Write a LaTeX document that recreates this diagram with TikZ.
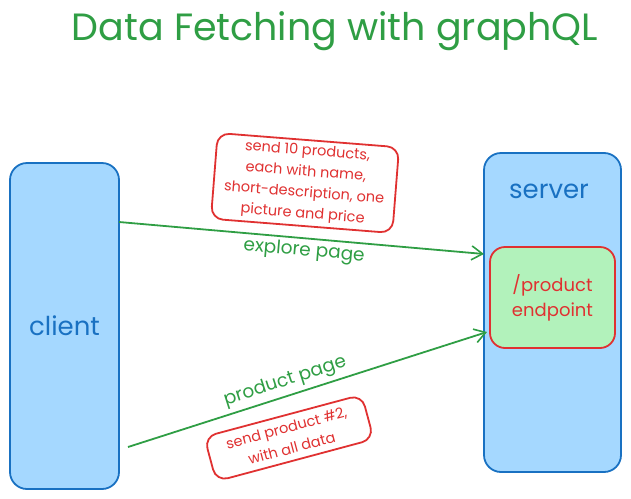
\documentclass[tikz,border=0pt]{standalone}
\usepackage{fontspec}
\setmainfont{Poppins}
\usetikzlibrary{arrows.meta}
\definecolor{skyfill}{HTML}{A5D8FF}
\definecolor{skyline}{HTML}{1971C2}
\definecolor{leaf}{HTML}{2F9E44}
\definecolor{leaffill}{HTML}{B2F2BB}
\definecolor{rose}{HTML}{E03131}
\begin{document}
\begin{tikzpicture}[
                    x=1pt, y=-1pt,
                    >={Straight Barb[length=11pt,width=14pt,line width=1.6pt]},
                    lane/.style={draw=skyline, fill=skyfill, line width=1.8pt, rounded corners=17pt, text=skyline, font=\fontsize{26}{30}\selectfont},
                    note/.style={draw=rose, line width=1.8pt, rounded corners=12pt, text=rose, align=center, font=\fontsize{14.5}{21}\selectfont},
                    flow/.style={draw=leaf, line width=1.8pt, ->},
                    flowlabel/.style={text=leaf, sloped, inner sep=1pt, font=\fontsize{18.5}{22}\selectfont}
                    ]
        \useasboundingbox (0,0) rectangle (631,498);

        \node [text=leaf, font=\fontsize{38}{44}\selectfont] (title) at (335,31) {Data Fetching with graphQL};

        \node [lane, minimum width=109pt, minimum height=326pt] (client) at (64.5,326) {client};
        \node [lane, minimum width=137pt, minimum height=319pt] (server) at (552.5,312.5) {};
        \node [text=skyline, font=\fontsize{26}{30}\selectfont] (serverlabel) at (549,191) {server};
        \node [note, fill=leaffill, minimum width=125pt, minimum height=101pt, rounded corners=15pt, font=\fontsize{18}{25}\selectfont] (endpoint) at (552.5,297.5) {/product\\endpoint};

        \coordinate (explorestart) at (119,222);
        \coordinate (exploreend) at (484,254);
        \coordinate (productstart) at (128,447);
        \coordinate (productend) at (487,332);

        \draw[flow] (explorestart) -- node[flowlabel, below=2pt, pos=0.51]{explore page} (exploreend);
        \draw[flow] (productstart) -- node[flowlabel, above=3pt, pos=0.45]{product page} (productend);

        \node [note, fill=white, minimum width=182pt, minimum height=86pt, rotate=-4.5] (listnote) at (305,183) {send 10 products,\\each with name,\\short-description, one\\picture and price};
        \node [note, fill=white, minimum width=163pt, minimum height=46pt, rotate=15] (detailnote) at (289,438) {send product \#2,\\with all data};
\end{tikzpicture}
\end{document}
